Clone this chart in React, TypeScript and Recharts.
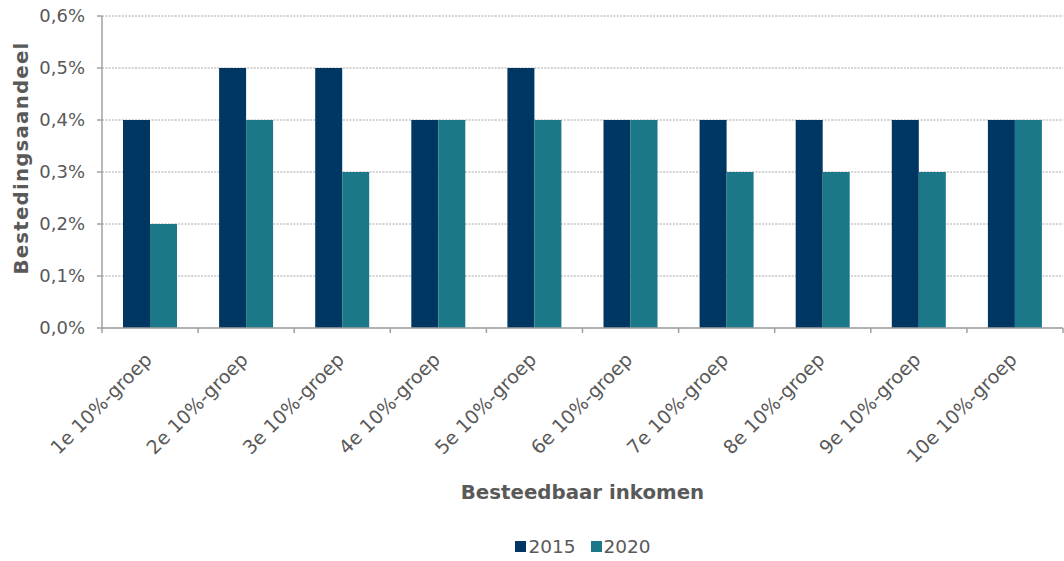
import React from 'react';
import { BarChart, Bar, XAxis, YAxis, CartesianGrid, Legend, Label } from 'recharts';

const categories = [
  '1e 10%-groep', '2e 10%-groep', '3e 10%-groep', '4e 10%-groep', '5e 10%-groep',
  '6e 10%-groep', '7e 10%-groep', '8e 10%-groep', '9e 10%-groep', '10e 10%-groep',
];
const values2015 = [0.4, 0.5, 0.5, 0.4, 0.5, 0.4, 0.4, 0.4, 0.4, 0.4];
const values2020 = [0.2, 0.4, 0.3, 0.4, 0.4, 0.4, 0.3, 0.3, 0.3, 0.4];
const yTicks = [0, 0.1, 0.2, 0.3, 0.4, 0.5, 0.6];
const seriesNames = ['2015', '2020'];
const seriesColors = ['#003762', '#1b7889'];

const data = categories.map((c, i) => ({ cat: c, y2015: values2015[i], y2020: values2020[i] }));

const FONT = 'Verdana, "DejaVu Sans", sans-serif';
const TEXT = '#595959';
const AXIS = '#a0a0a0';

const fmt = (v: number) => v.toFixed(1).replace('.', ',') + '%';

const CatTick = (props: any) => {
  const { x, y, payload, index, visibleTicksCount } = props;
  const half = payload.offset || 0;
  const axisY = y - 2;
  const ax = x + 3;
  const ay = axisY + 33;
  return (
    <g>
      <line x1={x - half} x2={x - half} y1={axisY} y2={axisY + 5} stroke={AXIS} strokeWidth={1.5} />
      {index === visibleTicksCount - 1 && (
        <line x1={x + half} x2={x + half} y1={axisY} y2={axisY + 5} stroke={AXIS} strokeWidth={1.5} />
      )}
      <text
        x={ax}
        y={ay}
        transform={`rotate(-45, ${ax}, ${ay})`}
        textAnchor="end"
        fontFamily={FONT}
        fontSize={19}
        fill={TEXT}
      >
        {payload.value}
      </text>
    </g>
  );
};

const LegendContent = () => (
  <div
    style={{
      height: 30,
      display: 'flex',
      justifyContent: 'center',
      alignItems: 'center',
      fontFamily: FONT,
      fontSize: 18.5,
      color: TEXT,
      paddingLeft: 102,
      boxSizing: 'border-box',
    }}
  >
    {seriesNames.map((n, i) => (
      <span key={n} style={{ display: 'flex', alignItems: 'center', marginRight: i === 0 ? 15 : 0 }}>
        <span style={{ width: 11, height: 11, background: seriesColors[i], marginRight: 2, display: 'inline-block' }} />
        {n}
      </span>
    ))}
  </div>
);

export default function App() {
  return (
    <div style={{ position: 'absolute', left: 0, top: 0, width: 1064, height: 561, background: '#fff' }}>
      <BarChart
        width={1064}
        height={561}
        data={data}
        margin={{ top: 16, right: 1, left: 0, bottom: 0 }}
        barGap={0}
        barSize={27}
      >
        <CartesianGrid
          vertical={false}
          stroke="#a6a6a6"
          strokeDasharray="2 1.3"
        />
        <XAxis
          dataKey="cat"
          height={203}
          axisLine={{ stroke: AXIS, strokeWidth: 1.5 }}
          tickLine={false}
          tickSize={0}
          tickMargin={2}
          tick={<CatTick />}
          interval={0}
        >
          <Label
            content={(p: any) => {
              const vb = p.viewBox;
              return (
                <text
                  x={vb.x + vb.width / 2}
                  y={vb.y + 171}
                  textAnchor="middle"
                  fontFamily={FONT}
                  fontSize={19.8}
                  fontWeight="bold"
                  fill={TEXT}
                >
                  Besteedbaar inkomen
                </text>
              );
            }}
          />
        </XAxis>
        <YAxis
          domain={[0, 0.6]}
          ticks={yTicks}
          width={102}
          tickFormatter={fmt}
          axisLine={{ stroke: AXIS, strokeWidth: 1.5 }}
          tickLine={{ stroke: AXIS, strokeWidth: 1.5 }}
          tickSize={5}
          tickMargin={12}
          tick={{ fontFamily: FONT, fontSize: 18, fill: TEXT }}
        >
          <Label
            content={(p: any) => {
              const vb = p.viewBox;
              const cx = 21;
              const cy = vb.y + vb.height / 2 - 14;
              return (
                <text
                  x={cx}
                  y={cy}
                  transform={`rotate(-90, ${cx}, ${cy})`}
                  textAnchor="middle"
                  dominantBaseline="central"
                  fontFamily={FONT}
                  fontSize={19.8}
                  fontWeight="bold"
                  letterSpacing={1.2}
                  fill={TEXT}
                >
                  Bestedingsaandeel
                </text>
              );
            }}
          />
        </YAxis>
        <Legend verticalAlign="bottom" wrapperStyle={{ bottom: 0, left: 0, width: 1064 }} content={<LegendContent />} />
        <Bar dataKey="y2015" name="2015" fill={seriesColors[0]} isAnimationActive={false} />
        <Bar dataKey="y2020" name="2020" fill={seriesColors[1]} isAnimationActive={false} />
      </BarChart>
    </div>
  );
}
